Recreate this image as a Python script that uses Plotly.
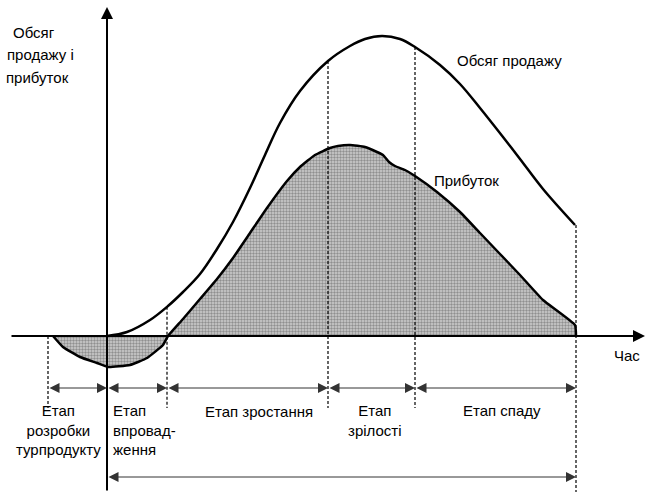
import numpy as np
import plotly.graph_objects as go

# ---- data (time units from the vertical axis, value units above the time axis) ----
sales_t = [0, 20, 43, 61, 76, 93, 110, 126, 143, 158, 173, 193, 221, 243, 258, 275, 293, 308, 333, 353, 373, 396, 413, 436, 468]
sales_v = [0, 4, 16, 30, 44, 62, 87, 114, 148, 181, 213, 245, 275, 290, 297, 300, 297, 289, 271, 252, 228, 199, 177, 147, 111]

profit_t = [-54, -44, -27, -10, 1, 23, 40, 56, 61, 76, 93, 110, 126, 143, 160, 180, 193, 208, 223, 231, 243, 258, 270, 276, 282, 288, 298, 308, 330, 353, 373, 393, 413, 436, 468, 469]
profit_v = [0, -11, -21, -27, -31, -29, -22, -9, 0, 17, 37, 57, 78, 103, 128, 155, 169, 181, 188, 190, 191, 189, 184, 181, 174, 170, 166, 160, 144, 124, 103, 82, 61, 36, 11, 0]

stage_bounds = [-59, 0, 60, 221, 308, 469]
stage_names = ["Етап<br>розробки<br>турпродукту", "Етап<br>впровад-<br>ження", "Етап зростання", "Етап<br>зрілості", "Етап спаду"]

FONT = "Liberation Sans, Arial, sans-serif"
FS = 15
X_RANGE = [-107, 541]
Y_RANGE = [-156, 336]
ARROW_Y = -52
LIFE_Y = -141
DASH_BOTTOM = -72

fig = go.Figure()

# profit area + line
fig.add_trace(go.Scatter(
    x=profit_t, y=profit_v, mode="lines", fill="tozeroy",
    line=dict(color="black", width=2.5, shape="spline", smoothing=0.4),
    fillpattern=dict(shape=".", fgcolor="#4f4f4f", bgcolor="#cfcfcf", size=3, solidity=0.5),
    hoverinfo="skip", showlegend=False))

# sales line
fig.add_trace(go.Scatter(
    x=sales_t, y=sales_v, mode="lines",
    line=dict(color="black", width=2.5, shape="spline", smoothing=1.0),
    hoverinfo="skip", showlegend=False))

shapes = []
# dashed stage boundaries (top ends meet the sales curve)
for i, b in enumerate(stage_bounds):
    if b == 0:
        continue
    top = float(np.interp(b, sales_t, sales_v)) if b > 0 else 0
    bottom = Y_RANGE[0] if i == len(stage_bounds) - 1 else DASH_BOTTOM
    shapes.append(dict(type="line", xref="x", yref="y", x0=b, x1=b, y0=top, y1=bottom,
                       line=dict(color="black", width=1.2, dash="3px,2px")))

annotations = []
# axes with arrows
annotations.append(dict(x=0, y=329, ax=0, ay=Y_RANGE[0], xref="x", yref="y", axref="x", ayref="y",
                        text="", showarrow=True, arrowhead=2, arrowsize=1.2, arrowwidth=2, arrowcolor="black"))
annotations.append(dict(x=538, y=0, ax=-97, ay=0, xref="x", yref="y", axref="x", ayref="y",
                        text="", showarrow=True, arrowhead=2, arrowsize=1.2, arrowwidth=2, arrowcolor="black"))

# stage arrows
for a, b in zip(stage_bounds[:-1], stage_bounds[1:]):
    annotations.append(dict(x=b, y=ARROW_Y, ax=a, ay=ARROW_Y, xref="x", yref="y", axref="x", ayref="y",
                            text="", showarrow=True, arrowhead=2, startarrowhead=2, arrowside="end+start",
                            arrowsize=2.0, startarrowsize=2.0, arrowwidth=1, arrowcolor="#333"))
# product life arrow
annotations.append(dict(x=stage_bounds[-1], y=LIFE_Y, ax=stage_bounds[1], ay=LIFE_Y, xref="x", yref="y",
                        axref="x", ayref="y", text="", showarrow=True, arrowhead=2, startarrowhead=2,
                        arrowside="end+start", arrowsize=2.0, startarrowsize=2.0, arrowwidth=1, arrowcolor="#333"))


def txt(s, x, y, xanchor="center", yanchor="middle", align="center"):
    annotations.append(dict(x=x, y=y, xref="x", yref="y", text=s, showarrow=False, xanchor=xanchor,
                            yanchor=yanchor, align=align, font=dict(family=FONT, size=FS, color="black")))


# stage labels
txt(stage_names[0], -49, -64, yanchor="top")
txt(stage_names[1], 4, -64, xanchor="left", yanchor="top", align="left")
txt(stage_names[2], 152, -75)
txt(stage_names[3], 268, -64, yanchor="top")
txt(stage_names[4], 395, -74)

txt("Обсяг продажу", 402, 276)
txt("Прибуток", 359, 156)
txt("Час", 520, -19)
txt("Обсяг", -73, 304)
txt("продажу і", -67, 282)
txt("прибуток", -70, 259)

fig.update_layout(
    width=648, height=492, margin=dict(l=0, r=0, t=0, b=0),
    paper_bgcolor="white", plot_bgcolor="white",
    xaxis=dict(range=X_RANGE, visible=False, fixedrange=True),
    yaxis=dict(range=Y_RANGE, visible=False, fixedrange=True),
    shapes=shapes, annotations=annotations, showlegend=False)

fig.write_html("out.html", config={"displayModeBar": False},
               post_script="document.body.style.margin='0px';document.body.style.overflow='hidden';")
